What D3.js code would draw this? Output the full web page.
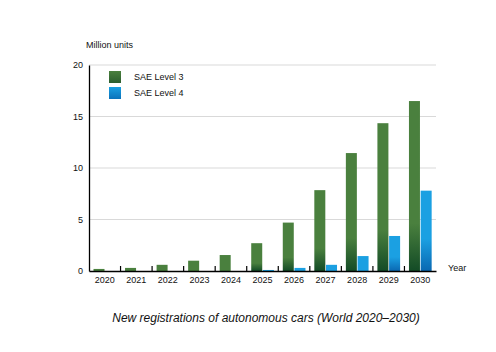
<!DOCTYPE html>
<html>
<head>
<meta charset="utf-8">
<script src="https://cdn.jsdelivr.net/npm/d3@7"></script>
<style>
  body { margin: 0; background: #fff; }
  text { font-family: "Liberation Sans", Arial, sans-serif; fill: #111; }
</style>
</head>
<body>
<div id="container"></div>
<script>
/* DATA */
const years = ["2020","2021","2022","2023","2024","2025","2026","2027","2028","2029","2030"];
const level3 = [0.2, 0.3, 0.6, 1.0, 1.55, 2.7, 4.7, 7.85, 11.45, 14.35, 16.5];
const level4 = [0, 0, 0, 0, 0, 0.1, 0.3, 0.6, 1.45, 3.4, 7.8];
const seriesNames = ["SAE Level 3", "SAE Level 4"];
const yTicks = [0, 5, 10, 15, 20];

/* CONSTANTS */
const width = 496, height = 352,
      margin = {top: 65, bottom: 81, left: 89, right: 60};

const svg = d3.select("#container").append("svg")
  .attr("width", width).attr("height", height);

// scales
const xScale = d3.scaleBand()
  .domain(years)
  .range([margin.left, width - margin.right])
  .padding(0);

const yScale = d3.scaleLinear()
  .domain([0, 20])
  .range([height - margin.bottom, margin.top]);

// gradients per bar (darker towards base)
const defs = svg.append("defs");
function grad(id, top, bottom, start) {
  const g = defs.append("linearGradient")
    .attr("id", id)
    .attr("x1", 0).attr("x2", 0)
    .attr("y1", 0).attr("y2", 1);
  g.append("stop").attr("offset", "0%").attr("stop-color", top);
  g.append("stop").attr("offset", start).attr("stop-color", top);
  g.append("stop").attr("offset", "100%").attr("stop-color", bottom);
}
grad("g3", "#4a803e", "#134b26", "72%");
grad("g4", "#1ba0e2", "#0a68b2", "60%");

// gridlines
svg.append("g")
  .selectAll("line")
  .data(yTicks.filter(d => d > 0))
  .join("line")
  .attr("x1", margin.left).attr("x2", width - margin.right)
  .attr("y1", d => yScale(d)).attr("y2", d => yScale(d))
  .attr("stroke", "#d9d9d9").attr("stroke-width", 1);

// bars
const bw = 11;
svg.append("g").selectAll("rect.l3")
  .data(years.map((y, i) => ({year: y, v: level3[i]})))
  .join("rect")
  .attr("class", "l3")
  .attr("x", d => xScale(d.year) + 4.5)
  .attr("y", d => yScale(d.v))
  .attr("width", bw)
  .attr("height", d => yScale(0) - yScale(d.v))
  .attr("fill", d => d.v > 2 ? "url(#g3)" : "#4a803e");

svg.append("g").selectAll("rect.l4")
  .data(years.map((y, i) => ({year: y, v: level4[i]})).filter(d => d.v > 0))
  .join("rect")
  .attr("class", "l4")
  .attr("x", d => xScale(d.year) + 16.2)
  .attr("y", d => yScale(d.v))
  .attr("width", bw)
  .attr("height", d => yScale(0) - yScale(d.v))
  .attr("fill", d => d.v > 2 ? "url(#g4)" : "#1ba0e2");

// y axis
const yAxis = d3.axisLeft(yScale).tickValues(yTicks).tickSize(0).tickPadding(6);
const yG = svg.append("g")
  .attr("transform", `translate(${margin.left},0)`)
  .call(yAxis);
yG.select(".domain").attr("stroke", "#000").attr("stroke-width", 1.3);
yG.selectAll("text").attr("font-size", 9).attr("fill", "#111")
  .attr("font-family", "Liberation Sans, Arial, sans-serif");

// x axis
const xAxis = d3.axisBottom(xScale).tickSize(0).tickPadding(6);
const xG = svg.append("g")
  .attr("transform", `translate(0,${yScale(0)})`)
  .call(xAxis);
xG.select(".domain").attr("stroke", "#000").attr("stroke-width", 1.3);
xG.selectAll("text").attr("font-size", 9).attr("fill", "#111")
  .attr("font-family", "Liberation Sans, Arial, sans-serif");

// boundary ticks pointing up
svg.append("g").selectAll("line")
  .data(years.slice(1))
  .join("line")
  .attr("x1", d => xScale(d)).attr("x2", d => xScale(d))
  .attr("y1", yScale(0)).attr("y2", yScale(0) - 5)
  .attr("stroke", "#000").attr("stroke-width", 1.2);

// axis titles
svg.append("text")
  .attr("x", 86).attr("y", 48)
  .attr("font-size", 9)
  .text("Million units");

svg.append("text")
  .attr("x", 448).attr("y", 271)
  .attr("font-size", 9)
  .text("Year");

// legend
[["lg3", "#4a803e", "#2c5e2e"], ["lg4", "#1ba0e2", "#0b72ba"]].forEach(([id, a, b]) => {
  const g = defs.append("linearGradient").attr("id", id)
    .attr("x1", 0).attr("x2", 0).attr("y1", 0).attr("y2", 1);
  g.append("stop").attr("offset", "0%").attr("stop-color", a);
  g.append("stop").attr("offset", "100%").attr("stop-color", b);
});
const legend = svg.append("g");
seriesNames.forEach((name, i) => {
  legend.append("rect")
    .attr("x", 109).attr("y", 71 + i * 16)
    .attr("width", 12).attr("height", 12)
    .attr("fill", i === 0 ? "url(#lg3)" : "url(#lg4)");
  legend.append("text")
    .attr("x", 134).attr("y", 80 + i * 16)
    .attr("font-size", 9)
    .text(name);
});

// caption
svg.append("text")
  .attr("x", 266).attr("y", 322)
  .attr("text-anchor", "middle")
  .attr("font-size", 12)
  .attr("font-style", "italic")
  .text("New registrations of autonomous cars (World 2020\u20132030)");
</script>
</body>
</html>
